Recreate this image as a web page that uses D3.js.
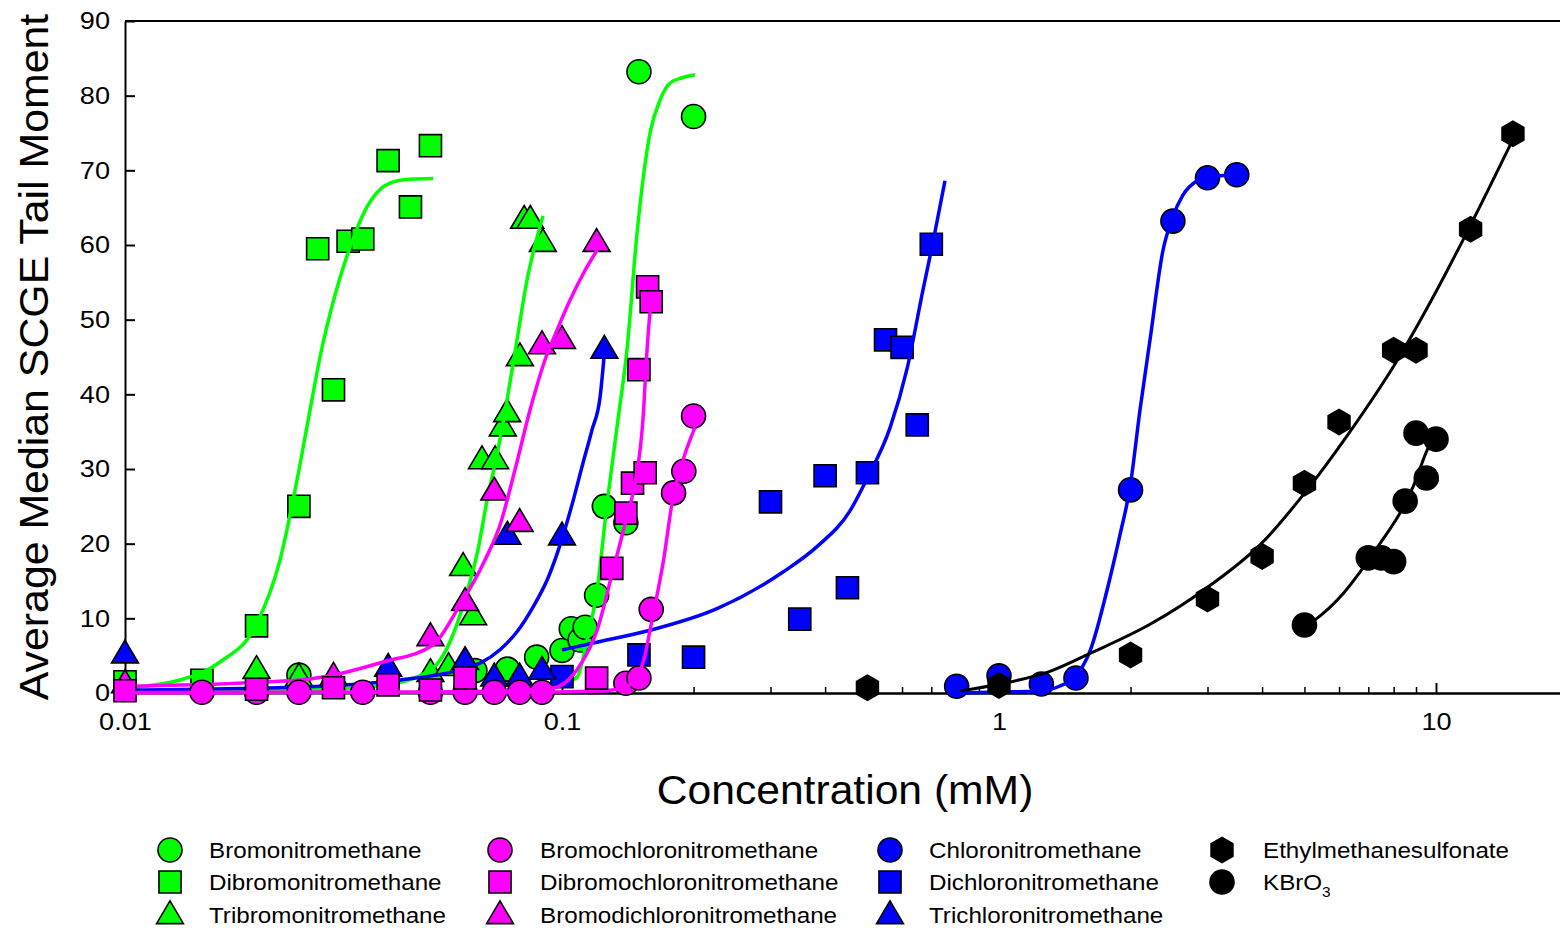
<!DOCTYPE html>
<html><head><meta charset="utf-8">
<script src="https://cdn.jsdelivr.net/npm/d3@7/dist/d3.min.js"></script>
<style>
html,body{margin:0;padding:0;background:#fff;}
svg{display:block;font-family:"Liberation Sans",Arial,sans-serif;}
</style></head>
<body><svg id="chart" width="1560" height="928"></svg>
<script>
// ---------------- DATA (concentration mM, tail moment) ----------------
const xTickLabels = ["0.01","0.1","1","10"];
const xMajorTicks = [0.01,0.1,1,10];
const yTicks = [0,10,20,30,40,50,60,70,80,90];

// Bromonitromethane (green circles)
const bnmPoints = [[0.025,2.4],[0.0632,3],[0.075,3.2],[0.0875,4.8],[0.1,5.7],[0.105,8.6],[0.11,7.1],[0.113,8.8],[0.12,13.1],[0.125,25],[0.14,22.8],[0.15,83.2],[0.2,77.2]];
const bnmCurve = [[0.01,0],[0.0426,0],[0.0721,0.27],[0.0939,0.67],[0.1082,2.1],[0.1141,7.1],[0.1203,13.8],[0.1268,25.4],[0.1343,36.6],[0.1408,45.9],[0.1485,61.6],[0.159,75],[0.1676,79.4],[0.1767,81.7],[0.1883,82.4],[0.2016,82.8]];
// Dibromonitromethane (green squares)
const dbnmPoints = [[0.01,1.5],[0.015,1.7],[0.02,9],[0.025,25],[0.03,40.6],[0.0276,59.5],[0.0324,60.5],[0.035,60.8],[0.04,71.3],[0.045,65.1],[0.05,73.3]];
const dbnmCurve = [[0.01,0.67],[0.01336,1.74],[0.0165,4.15],[0.02005,9.37],[0.02263,17.8],[0.02475,28.5],[0.02651,37.9],[0.02794,45],[0.03024,53.3],[0.03272,59.7],[0.03579,65.1],[0.0404,68.3],[0.0449,68.8],[0.0507,68.9]];
// Tribromonitromethane (green triangles)
const tbnmPoints = [[0.02,3.1],[0.025,2.1],[0.05,2.7],[0.055,3.5],[0.0594,16.9],[0.0626,10.3],[0.0656,31.2],[0.0703,31.2],[0.0732,35.6],[0.0749,37.5],[0.0801,45],[0.0819,63.4],[0.0846,63.4],[0.0904,60.3]];
const tbnmCurve = [[0.01,0.1],[0.02514,0.4],[0.03833,0.94],[0.0491,2.8],[0.05259,4.4],[0.0563,7.8],[0.06061,13.5],[0.06423,19.2],[0.06735,25.8],[0.07099,31.9],[0.07484,39.2],[0.07889,47.3],[0.08316,55.3],[0.08674,60],[0.09047,63.9]];
// Bromochloronitromethane (magenta circles)
const bcnmPoints = [[0.015,0.1],[0.02,0.1],[0.025,0.1],[0.035,0.1],[0.05,0.1],[0.06,0.1],[0.07,0.1],[0.08,0.1],[0.09,0.1],[0.14,1.3],[0.15,2],[0.16,11.2],[0.18,26.8],[0.19,29.7],[0.2,37.1]];
const bcnmCurve = [[0.01,0],[0.0721,0.07],[0.1222,0.27],[0.1379,0.67],[0.1485,2.14],[0.1549,5.1],[0.159,8.4],[0.165,13.1],[0.1703,17.4],[0.1795,26.2],[0.1892,31.2],[0.2016,35.6]];
// Dibromochloronitromethane (magenta squares)
const dbcnmPoints = [[0.01,0.3],[0.02,0.5],[0.03,0.7],[0.04,1.1],[0.05,0.4],[0.06,2],[0.12,2],[0.13,16.7],[0.14,24.1],[0.145,28.1],[0.15,43.3],[0.155,29.5],[0.157,54.4],[0.16,52.4]];
const dbcnmCurve = [[0.01,0.07],[0.0426,0.13],[0.0721,0.27],[0.0954,0.67],[0.1082,3.1],[0.1203,8.4],[0.1309,16.5],[0.1408,23.6],[0.1469,28.1],[0.1532,36.6],[0.1565,45.9],[0.159,50.9],[0.1616,52.6]];
// Bromodichloronitromethane (magenta triangles)
const bdcnmPoints = [[0.01,1.2],[0.03,2.2],[0.05,7.5],[0.06,12.2],[0.07,27],[0.08,22.8],[0.09,46.6],[0.1,47.3],[0.12,60.3]];
const bdcnmCurve = [[0.01,0.9],[0.02514,1.74],[0.03895,4.15],[0.05068,6.43],[0.05751,11.1],[0.06664,17.8],[0.07214,22.5],[0.07806,29.9],[0.08449,37.9],[0.09143,44.6],[0.0974,48.6],[0.1043,52.6],[0.1129,56.6],[0.1203,59.3]];
// Chloronitromethane (blue circles)
const cnmPoints = [[0.8,0.9],[1,2.3],[1.25,1.2],[1.5,2],[2,27.2],[2.5,63.2],[3,69],[3.5,69.4]];
const cnmCurve = [[0.8013,0],[1.0053,0.13],[1.241,0.27],[1.379,0.94],[1.493,2.14],[1.615,5.6],[1.776,14.3],[1.892,21.2],[1.995,27.6],[2.102,37.9],[2.216,47.3],[2.373,59.3],[2.489,63.5],[2.637,66.7],[2.84,68.6],[2.992,69.1],[3.505,69.4]];
// Dichloronitromethane (blue squares)
const dcnmPoints = [[0.1,2.2],[0.15,5.1],[0.2,4.8],[0.3,25.6],[0.35,9.9],[0.4,29.1],[0.45,14.1],[0.5,29.5],[0.55,47.3],[0.6,46.3],[0.65,35.9],[0.7,60.1]];
const dcnmCurve = [[0.1,5.76],[0.1178,6.7],[0.159,8.4],[0.2263,11.3],[0.3204,16.2],[0.3832,19.6],[0.456,24.4],[0.4988,28.7],[0.5631,35.5],[0.6159,43.4],[0.67,54],[0.7063,60.4],[0.7522,68.6]];
// Trichloronitromethane (blue triangles)
const tcnmPoints = [[0.01,5.2],[0.04,3.4],[0.06,4.3],[0.07,2.1],[0.075,21.1],[0.08,2.1],[0.09,3],[0.1,21],[0.125,46]];
const tcnmCurve = [[0.01,0.4],[0.02514,0.8],[0.04259,1.74],[0.05843,3.1],[0.06493,4],[0.07214,5.8],[0.07889,8.2],[0.08584,11.5],[0.09289,15.4],[0.09895,19.8],[0.1054,25.2],[0.1117,30.8],[0.1171,35.2],[0.1222,39.6],[0.1248,45]];
// Ethylmethanesulfonate (black hexagons)
const emsPoints = [[0.5,0.7],[1,1],[2,5.1],[3,12.6],[4,18.3],[5,28.1],[6,36.3],[8,45.9],[9,45.9],[12,62.1],[15,74.9]];
const emsCurve = [[0.814,0.27],[1.0053,1.2],[1.308,2.9],[1.615,5.3],[2.216,9.2],[2.992,14.1],[3.998,20.1],[4.962,26.5],[6.357,35],[8.142,44.5],[9.843,53],[11.96,62.5],[14.93,73.9]];
// KBrO3 (black circles)
const kbro3Points = [[5,9.1],[7,18.1],[7.5,18.1],[8,17.6],[8.5,25.7],[9,34.8],[9.5,28.8],[10,34]];
const kbro3Curve = [[4.99,8.8],[5.287,9.8],[6.127,13.3],[6.953,17.5],[7.563,20.6],[8.272,24.1],[8.86,27.6],[9.537,32.5],[9.79,33.9]];

const seriesNames = ["Bromonitromethane","Dibromonitromethane","Tribromonitromethane",
  "Bromochloronitromethane","Dibromochloronitromethane","Bromodichloronitromethane",
  "Chloronitromethane","Dichloronitromethane","Trichloronitromethane",
  "Ethylmethanesulfonate","KBrO3"];

// ---------------- SETUP ----------------
const GREEN="#00ff00", MAG="#ff00ff", BLUE="#0000ff", BLACK="#000000";
const series = [
  {name:seriesNames[0], pts:bnmPoints, curve:bnmCurve, color:GREEN, shape:"circle"},
  {name:seriesNames[1], pts:dbnmPoints, curve:dbnmCurve, color:GREEN, shape:"square"},
  {name:seriesNames[2], pts:tbnmPoints, curve:tbnmCurve, color:GREEN, shape:"triangle"},
  {name:seriesNames[6], pts:cnmPoints, curve:cnmCurve, color:BLUE, shape:"circle"},
  {name:seriesNames[7], pts:dcnmPoints, curve:dcnmCurve, color:BLUE, shape:"square"},
  {name:seriesNames[8], pts:tcnmPoints, curve:tcnmCurve, color:BLUE, shape:"triangle"},
  {name:seriesNames[5], pts:bdcnmPoints, curve:bdcnmCurve, color:MAG, shape:"triangle"},
  {name:seriesNames[3], pts:bcnmPoints, curve:bcnmCurve, color:MAG, shape:"circle"},
  {name:seriesNames[4], pts:dbcnmPoints, curve:dbcnmCurve, color:MAG, shape:"square"},
  {name:seriesNames[9], pts:emsPoints, curve:emsCurve, color:BLACK, shape:"hexagon"},
  {name:seriesNames[10], pts:kbro3Points, curve:kbro3Curve, color:BLACK, shape:"circle"}
];

const svg = d3.select("#chart");
const X0 = 125, DEC = 437;
const x = d3.scaleLog().domain([0.01, 20]).range([X0, X0 + DEC*Math.log10(2000)]);
const y = d3.scaleLinear().domain([0, 90]).range([693, 21]);

function symbolPath(shape, s) {
  if (shape === "circle") {
    const r = s;
    return `M${-r},0A${r},${r} 0 1,0 ${r},0A${r},${r} 0 1,0 ${-r},0Z`;
  }
  if (shape === "square") {
    const h = s*0.92;
    return `M${-h},${-h}H${h}V${h}H${-h}Z`;
  }
  if (shape === "triangle") {
    const w = s*1.12, ht = s*1.9;
    return `M0,${-ht*0.62}L${w},${ht*0.38}L${-w},${ht*0.38}Z`;
  }
  if (shape === "hexagon") {
    const r = s*1.05; let p = "";
    for (let i=0;i<6;i++){ const a = Math.PI/180*(60*i-90); p += (i?"L":"M")+(r*Math.cos(a)).toFixed(2)+","+(r*Math.sin(a)).toFixed(2); }
    return p+"Z";
  }
}

// ---------------- AXES ----------------
const gAx = svg.append("g");
gAx.append("line").attr("x1", X0).attr("x2", x.range()[1]).attr("y1", y(90)).attr("y2", y(90))
  .attr("stroke","#000").attr("stroke-width",2);

const yAxis = d3.axisLeft(y).tickValues(yTicks).tickSizeInner(-10).tickSizeOuter(0).tickPadding(0).tickFormat(d3.format("d"));
const gy = gAx.append("g").attr("transform",`translate(${X0},0)`).call(yAxis);
gy.select(".domain").attr("stroke-width",2);
gy.selectAll(".tick line").attr("stroke-width",2);
gy.selectAll("text").attr("x",null).attr("font-size",24).attr("font-family","Liberation Sans, Arial, sans-serif").attr("fill","#000")
  .attr("transform","translate(-15,0) scale(1.13,1)");

const minorTicks = [];
for (let e=-2;e<=1;e++) for (let m=2;m<=9;m++){ const v=m*Math.pow(10,e); if (v<20) minorTicks.push(v); }
const xAxisMinor = d3.axisBottom(x).tickValues(minorTicks).tickSizeInner(-6).tickSizeOuter(0).tickFormat("");
const gxm = gAx.append("g").attr("transform","translate(0,693)").call(xAxisMinor);
gxm.select(".domain").attr("stroke-width",2);
gxm.selectAll(".tick line").attr("stroke-width",1.5);

const xAxis = d3.axisBottom(x).tickValues(xMajorTicks).tickSizeInner(-10).tickSizeOuter(0).tickPadding(20)
  .tickFormat((d,i)=>xTickLabels[i]);
const gx = gAx.append("g").attr("transform","translate(0,693)").call(xAxis);
gx.select(".domain").attr("stroke-width",2);
gx.selectAll(".tick line").attr("stroke-width",2);
gx.selectAll("text").attr("font-size",24).attr("font-family","Liberation Sans, Arial, sans-serif").attr("fill","#000")
  .attr("transform","scale(1.13,1)");

// titles
svg.append("text").attr("transform","translate(845,804) scale(1.04,1)").attr("text-anchor","middle").attr("font-size",41)
  .text("Concentration (mM)");
svg.append("text").attr("transform","translate(48,357) rotate(-90) scale(1.045,1)").attr("text-anchor","middle").attr("font-size",41)
  .text("Average Median SCGE Tail Moment");

// ---------------- DATA MARKS ----------------
const line = d3.line().x(d=>x(d[0])).y(d=>y(d[1])).curve(d3.curveMonotoneX);
const plot = svg.append("g");
series.forEach(s=>{
  const g = plot.append("g");
  g.selectAll("path.pt").data(s.pts).enter().append("path").attr("class","pt")
    .attr("d", symbolPath(s.shape, 12))
    .attr("transform", d=>`translate(${x(d[0])},${y(d[1])})`)
    .attr("fill", s.color).attr("stroke","#000").attr("stroke-width",1.6);
  g.append("path").datum(s.curve).attr("d", line).attr("fill","none")
    .attr("stroke", s.color).attr("stroke-width", s.color===BLACK?3:3.5);
});

// ---------------- LEGEND ----------------
const legendItems = [
  {col:0,row:0,name:seriesNames[0],color:GREEN,shape:"circle"},
  {col:0,row:1,name:seriesNames[1],color:GREEN,shape:"square"},
  {col:0,row:2,name:seriesNames[2],color:GREEN,shape:"triangle"},
  {col:1,row:0,name:seriesNames[3],color:MAG,shape:"circle"},
  {col:1,row:1,name:seriesNames[4],color:MAG,shape:"square"},
  {col:1,row:2,name:seriesNames[5],color:MAG,shape:"triangle"},
  {col:2,row:0,name:seriesNames[6],color:BLUE,shape:"circle"},
  {col:2,row:1,name:seriesNames[7],color:BLUE,shape:"square"},
  {col:2,row:2,name:seriesNames[8],color:BLUE,shape:"triangle"},
  {col:3,row:0,name:seriesNames[9],color:BLACK,shape:"hexagon"},
  {col:3,row:1,name:seriesNames[10],color:BLACK,shape:"circle"}
];
const colSym = [170, 500, 890, 1222], colTxt = [209, 540, 929, 1263];
const rowY = [850, 882, 915];
const lg = svg.append("g");
legendItems.forEach(it=>{
  lg.append("path").attr("d", symbolPath(it.shape, 12))
    .attr("transform",`translate(${colSym[it.col]},${rowY[it.row]})`)
    .attr("fill", it.color).attr("stroke","#000").attr("stroke-width",1.6);
  const t = lg.append("text").attr("transform",`translate(${colTxt[it.col]},${rowY[it.row]}) scale(1.1,1)`).attr("dy","0.35em")
    .attr("font-size",22).attr("fill","#000");
  if (it.name === "KBrO3") {
    t.append("tspan").text("KBrO");
    t.append("tspan").attr("font-size",14).attr("dy","0.55em").text("3");
  } else t.text(it.name);
});
</script></body></html>
